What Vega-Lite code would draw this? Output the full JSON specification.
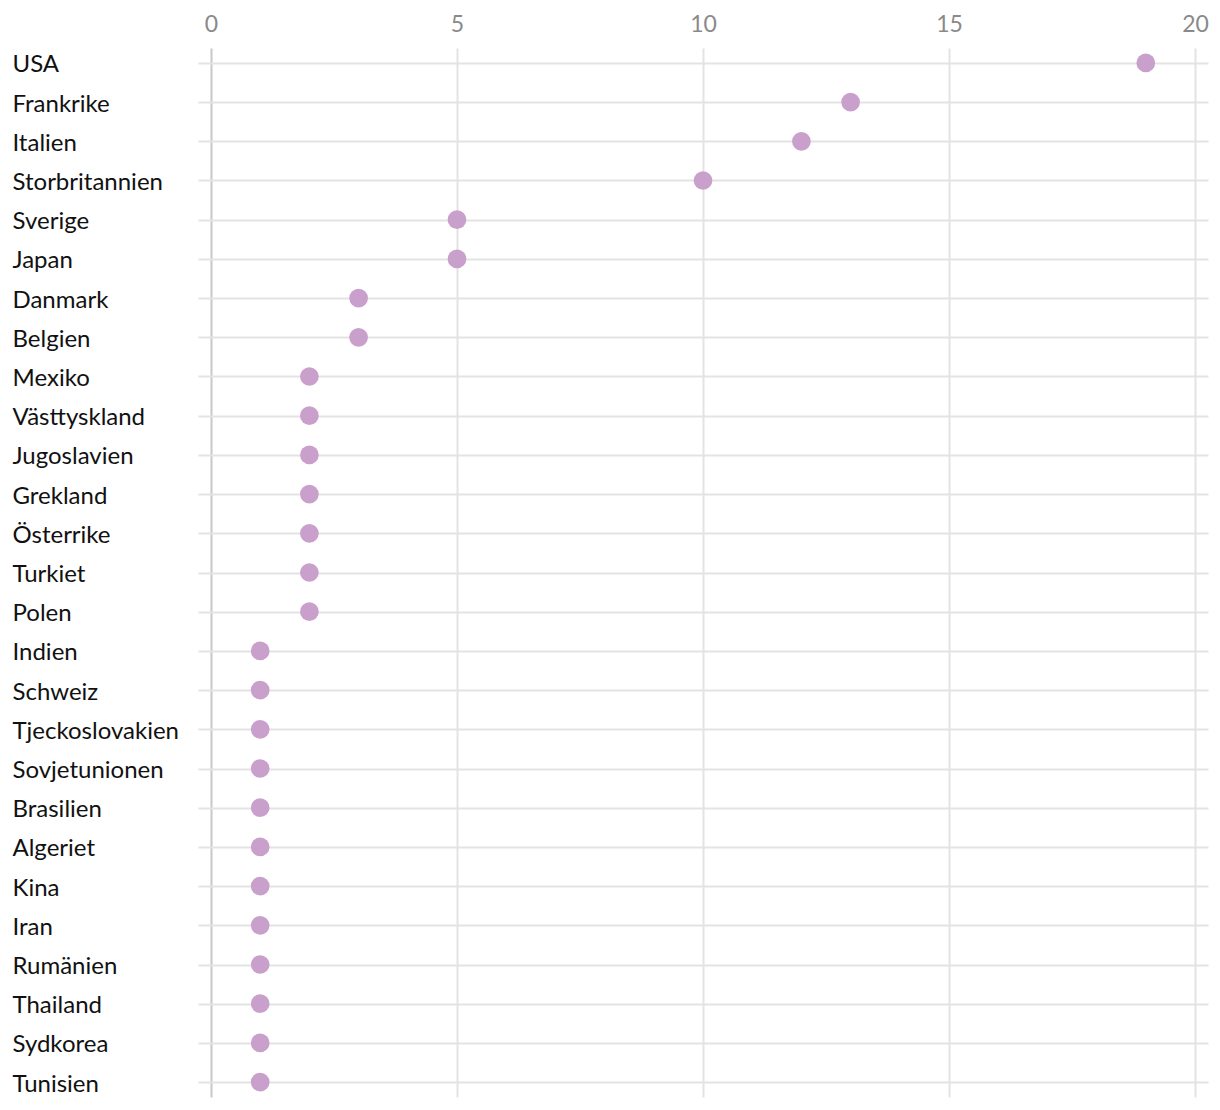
{
  "$schema": "https://vega.github.io/schema/vega-lite/v6.json",
  "autosize": "none",
  "padding": {"left": 198, "top": 48, "right": 12, "bottom": 13},
  "width": 1010,
  "height": 1049,
  "background": "white",
  "config": {"view": {"stroke": null}, "font": "Lato"},
  "data": {"values": [
    {"land": "USA", "antal": 19},
    {"land": "Frankrike", "antal": 13},
    {"land": "Italien", "antal": 12},
    {"land": "Storbritannien", "antal": 10},
    {"land": "Sverige", "antal": 5},
    {"land": "Japan", "antal": 5},
    {"land": "Danmark", "antal": 3},
    {"land": "Belgien", "antal": 3},
    {"land": "Mexiko", "antal": 2},
    {"land": "Västtyskland", "antal": 2},
    {"land": "Jugoslavien", "antal": 2},
    {"land": "Grekland", "antal": 2},
    {"land": "Österrike", "antal": 2},
    {"land": "Turkiet", "antal": 2},
    {"land": "Polen", "antal": 2},
    {"land": "Indien", "antal": 1},
    {"land": "Schweiz", "antal": 1},
    {"land": "Tjeckoslovakien", "antal": 1},
    {"land": "Sovjetunionen", "antal": 1},
    {"land": "Brasilien", "antal": 1},
    {"land": "Algeriet", "antal": 1},
    {"land": "Kina", "antal": 1},
    {"land": "Iran", "antal": 1},
    {"land": "Rumänien", "antal": 1},
    {"land": "Thailand", "antal": 1},
    {"land": "Sydkorea", "antal": 1},
    {"land": "Tunisien", "antal": 1}
  ]},
  "mark": {"type": "circle", "size": 350, "opacity": 1, "color": "#c9a0cb"},
  "encoding": {
    "y": {
      "field": "land", "type": "nominal", "sort": null,
      "scale": {"type": "point", "padding": 0.38},
      "axis": {
        "title": null, "domain": false, "ticks": false, "tickSize": 0,
        "labelAlign": "left", "labelPadding": 186, "labelOffset": 2,
        "labelFontSize": 24, "labelColor": "#111111",
        "grid": true, "gridColor": "#e3e3e3", "gridWidth": 2
      }
    },
    "x": {
      "field": "antal", "type": "quantitative",
      "scale": {"domain": [-0.264, 20.264], "nice": false, "zero": false},
      "axis": {
        "orient": "top", "title": null, "domain": false, "ticks": false,
        "values": [0, 5, 10, 15, 20],
        "labelFontSize": 23, "labelColor": "#8a8a8a", "labelPadding": 12,
        "grid": true, "gridWidth": 2,
        "gridColor": {"condition": {"test": "datum.value === 0", "value": "#c8c8c8"}, "value": "#e3e3e3"}
      }
    }
  }
}
